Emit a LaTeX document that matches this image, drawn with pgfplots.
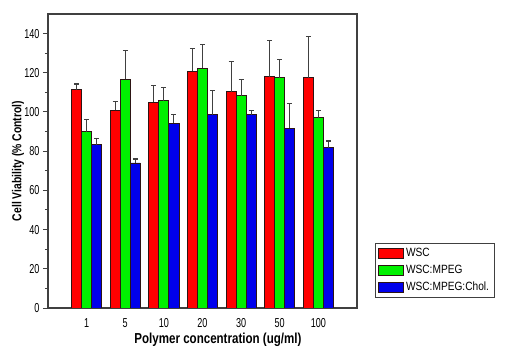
\documentclass[border=0pt]{standalone}
\usepackage{pgfplots}
\pgfplotsset{compat=1.18}
\usepackage{fontspec}
\setmainfont{Liberation Sans}
\newfontfamily\condfont{Liberation Sans}[FakeStretch=0.7]
\newfontfamily\labfont{Liberation Sans}[FakeStretch=0.8]
\newfontfamily\legfont{Liberation Sans}[FakeStretch=0.85]
\definecolor{cred}{RGB}{255,0,0}
\definecolor{cgreen}{RGB}{0,240,0}
\definecolor{cblue}{RGB}{0,0,235}
\definecolor{edge}{RGB}{45,20,20}

\pgfplotstableread{
x y e
-0.26 111.3 3.0
0.74 100.8 4.5
1.74 105.0 8.3
2.74 120.8 11.4
3.74 110.4 15.5
4.74 118.1 18.3
5.74 117.4 21.2
}\wsc
\pgfplotstableread{
x y e
0 90.0 6.0
1 116.7 14.8
2 105.7 6.8
3 122.3 12.1
4 108.4 8.3
5 117.4 9.2
6 97.0 3.8
}\mpeg
\pgfplotstableread{
x y e
0.26 83.3 3.4
1.26 74.0 2.0
2.26 94.3 4.3
3.26 98.6 12.4
4.26 98.6 2.2
5.26 91.8 12.4
6.26 81.8 3.4
}\chol

\begin{document}
\begin{tikzpicture}[x=1bp,y=1bp]
\begin{axis}[
  at={(48bp,39bp)}, anchor=south west,
  scale only axis, width=309bp, height=294bp,
  xmin=-1, xmax=7, ymin=0, ymax=150,
  xtick={0,...,6}, xticklabels={1,5,10,20,30,50,100},
  ytick={0,20,...,140}, minor y tick num=1,
  /pgf/number format/assume math mode=true,
  tick align=outside, ytick pos=left, xtick pos=bottom,
  xtick style={draw=none},
  ytick style={draw=black!75, line width=1bp},
  major tick length=5bp, minor tick length=3bp,
  ticklabel style={font=\condfont\fontsize{13}{13}\selectfont},
  xticklabel style={yshift=-2bp},
  axis line style={draw=black!75, line width=1.2bp},
  xlabel={Polymer concentration (ug/ml)},
  ylabel={Cell Viability (\% Control)},
  xlabel style={font=\labfont\bfseries\fontsize{14.5}{14.5}\selectfont, at={(axis description cs:0.55,-0.109)}, anchor=center},
  ylabel style={font=\labfont\bfseries\fontsize{13}{13}\selectfont, at={(axis description cs:-0.097,0.5)}, anchor=center},
  legend style={at={(1.058,0.221)}, anchor=north west, draw=black!75, line width=1bp,
    font=\legfont\fontsize{12}{12}\selectfont, row sep=3bp, inner xsep=3bp, inner ysep=3bp},
  legend cell align=left,
  legend image code/.code={\draw[#1, line width=0.6bp] (0bp,-5bp) rectangle (25bp,5bp);},
  error bars/y dir=plus, error bars/y explicit,
  error bars/error bar style={line width=1.1bp, draw=black!75},
  error bars/error mark options={rotate=90, mark size=2.5bp, line width=1.1bp, draw=black!75},
]
\addplot[ybar, bar width=0.26, bar shift=0, fill=cred, draw=edge, line width=0.8bp]
  table[x=x, y=y, y error=e] {\wsc};
\addplot[ybar, bar width=0.26, bar shift=0, fill=cgreen, draw=edge, line width=0.8bp]
  table[x=x, y=y, y error=e] {\mpeg};
\addplot[ybar, bar width=0.26, bar shift=0, fill=cblue, draw=edge, line width=0.8bp]
  table[x=x, y=y, y error=e] {\chol};
\legend{WSC, WSC:MPEG, WSC:MPEG:Chol.}
\end{axis}
\pgfresetboundingbox
\useasboundingbox (0,0) rectangle (511bp,347bp);
\end{tikzpicture}
\end{document}
